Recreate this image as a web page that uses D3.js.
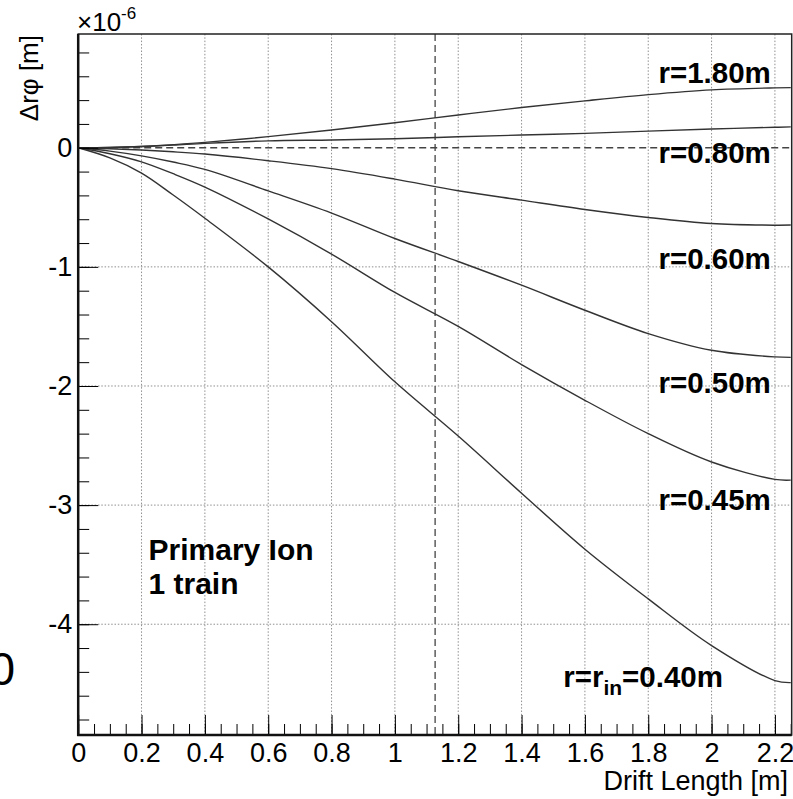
<!DOCTYPE html>
<html lang="en">
<head>
<meta charset="utf-8">
<script src="https://d3js.org/d3.v7.min.js"></script>
<style>
  body { margin: 0; background: #fff; }
  svg { display: block; font-family: "Liberation Sans", Arial, Helvetica, sans-serif; }
</style>
</head>
<body>
<div id="chart"></div>
<script>
const driftLength = [0, 0.1, 0.2, 0.3, 0.4, 0.6, 0.8, 1.0, 1.2, 1.4, 1.6, 1.8, 2.0, 2.2, 2.25];

// delta r-phi in units of 1e-6 m, one array per radius
const r180 = [0, 0.002, 0.010, 0.026, 0.045, 0.093, 0.149, 0.210, 0.275, 0.338, 0.394, 0.446, 0.486, 0.503, 0.505];
const r080 = [0, 0.003, 0.010, 0.022, 0.037, 0.058, 0.065, 0.075, 0.092, 0.107, 0.121, 0.140, 0.157, 0.172, 0.175];
const r060 = [0, -0.008, -0.019, -0.034, -0.053, -0.109, -0.175, -0.263, -0.361, -0.440, -0.518, -0.585, -0.636, -0.650, -0.649];
const r050 = [0, -0.028, -0.068, -0.120, -0.182, -0.362, -0.548, -0.762, -0.955, -1.154, -1.364, -1.560, -1.700, -1.756, -1.760];
const r045 = [0, -0.050, -0.118, -0.218, -0.330, -0.598, -0.893, -1.215, -1.500, -1.820, -2.120, -2.400, -2.638, -2.784, -2.790];
const r040 = [0, -0.085, -0.213, -0.397, -0.592, -1.000, -1.460, -1.965, -2.420, -2.900, -3.370, -3.787, -4.179, -4.473, -4.490];

const curves = [r180, r080, r060, r050, r045, r040];

const xTicks = [0, 0.2, 0.4, 0.6, 0.8, 1, 1.2, 1.4, 1.6, 1.8, 2, 2.2];
const yTicks = [-4, -3, -2, -1, 0];
const cutX = 1.127;   // vertical dashed marker

const W = 793, H = 799;
const svg = d3.select("#chart").append("svg")
    .attr("width", W).attr("height", H);

const x = d3.scaleLinear().domain([0, 2.253]).range([78.2, 791.7]);
const y = d3.scaleLinear().domain([-4.93, 0.955]).range([735, 34]);

// grid (dotted)
const grid = svg.append("g").attr("stroke", "#8f8f8f").attr("stroke-width", 1)
    .attr("stroke-dasharray", "1.5,1.8");
grid.selectAll(".gx").data(xTicks.filter(d => d > 0)).join("line")
    .attr("x1", d => x(d)).attr("x2", d => x(d))
    .attr("y1", y.range()[1]).attr("y2", y.range()[0]);
grid.selectAll(".gy").data(yTicks.filter(d => d !== 0)).join("line")
    .attr("y1", d => y(d)).attr("y2", d => y(d))
    .attr("x1", x.range()[0]).attr("x2", x.range()[1]);

// dashed reference lines
const dash = svg.append("g").attr("stroke", "#444").attr("stroke-width", 1.3)
    .attr("stroke-dasharray", "7,4");
dash.append("line")
    .attr("x1", x.range()[0]).attr("x2", x.range()[1])
    .attr("y1", y(0)).attr("y2", y(0));
dash.append("line")
    .attr("x1", x(cutX)).attr("x2", x(cutX))
    .attr("y1", y.range()[1]).attr("y2", y.range()[0]);

// curves
const line = d3.line()
    .x((d, i) => x(driftLength[i]))
    .y(d => y(d))
    .curve(d3.curveCatmullRom.alpha(0.5));
svg.append("g").selectAll("path").data(curves).join("path")
    .attr("d", line)
    .attr("fill", "none")
    .attr("stroke", "#333")
    .attr("stroke-width", 1.4);

// axes
const fmt = d => String(+d.toFixed(2));
const xMinor = d3.range(0, 2.2501, 0.05).map(d => +d.toFixed(2));
const yMinor = d3.range(-4.8, 0.81, 0.2).map(d => +d.toFixed(1));

svg.append("g").attr("transform", `translate(0,${y.range()[0]})`)
    .call(d3.axisBottom(x).tickValues(xMinor).tickSize(-11).tickFormat(""))
    .call(g => g.select(".domain").remove());
svg.append("g").attr("transform", `translate(${x.range()[0]},0)`)
    .call(d3.axisLeft(y).tickValues(yMinor).tickSize(-11).tickFormat(""))
    .call(g => g.select(".domain").remove());

const xAxis = svg.append("g").attr("transform", `translate(0,${y.range()[0]})`)
    .call(d3.axisBottom(x).tickValues(xTicks).tickSize(-20).tickPadding(8).tickFormat(fmt));
const yAxis = svg.append("g").attr("transform", `translate(${x.range()[0]},0)`)
    .call(d3.axisLeft(y).tickValues(yTicks).tickSize(-20).tickPadding(6).tickFormat(fmt));
[xAxis, yAxis].forEach(a => {
  a.select(".domain").remove();
  a.selectAll("text").attr("font-size", 27).attr("fill", "#000")
    .attr("font-family", "'Liberation Sans', Arial, sans-serif");
});

// frame
svg.append("rect")
    .attr("x", x.range()[0]).attr("y", y.range()[1])
    .attr("width", x.range()[1] - x.range()[0])
    .attr("height", y.range()[0] - y.range()[1])
    .attr("fill", "none").attr("stroke", "#222").attr("stroke-width", 1.5);
svg.append("line")
    .attr("x1", x.range()[0]).attr("x2", x.range()[0])
    .attr("y1", y.range()[1]).attr("y2", y.range()[0] + 1)
    .attr("stroke", "#111").attr("stroke-width", 2.5);
svg.append("line")
    .attr("x1", x.range()[0] - 1).attr("x2", x.range()[1])
    .attr("y1", y.range()[0]).attr("y2", y.range()[0])
    .attr("stroke", "#111").attr("stroke-width", 2.5);

// axis titles
svg.append("text")
    .attr("x", 788).attr("y", 790)
    .attr("text-anchor", "end").attr("font-size", 27)
    .text("Drift Length [m]");
svg.append("text")
    .attr("transform", "translate(38,35) rotate(-90)")
    .attr("text-anchor", "end").attr("font-size", 26)
    .text("Δrφ [m]");
const expo = svg.append("text").attr("x", 77).attr("y", 31).attr("font-size", 26);
expo.append("tspan").text("×10");
expo.append("tspan").attr("dy", -12).attr("font-size", 17).text("-6");

// curve labels (anchored in data coordinates, right aligned)
const lab = svg.append("g").attr("font-weight", "bold").attr("font-size", 29.5)
    .attr("text-anchor", "end").attr("fill", "#000");
const labels = [
  {t: "r=1.80m", v: 0.543},
  {t: "r=0.80m", v: -0.13},
  {t: "r=0.60m", v: -1.02},
  {t: "r=0.50m", v: -2.06},
  {t: "r=0.45m", v: -3.04}
];
labels.forEach(l => {
  lab.append("text").attr("x", x(2.187)).attr("y", y(l.v)).text(l.t);
});
const rin = lab.append("text").attr("x", x(2.036)).attr("y", y(-4.53));
rin.append("tspan").text("r=r");
rin.append("tspan").attr("dy", 8).attr("font-size", 21).text("in");
rin.append("tspan").attr("dy", -8).text("=0.40m");

const note = svg.append("g").attr("font-weight", "bold").attr("font-size", 30);
note.append("text").attr("x", x(0.222)).attr("y", y(-3.46)).text("Primary Ion");
note.append("text").attr("x", x(0.222)).attr("y", y(-3.75)).text("1 train");

// clipped glyph at the left edge of the picture
svg.append("text").attr("x", 15).attr("y", 685)
    .attr("text-anchor", "end").attr("font-size", 46)
    .text("0");
</script>
</body>
</html>
